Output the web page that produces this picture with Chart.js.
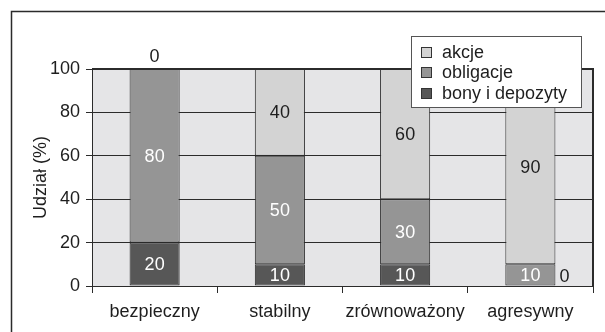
<!DOCTYPE html>
<html>
<head>
<meta charset="utf-8">
<script src="https://cdn.jsdelivr.net/npm/chart.js@4/dist/chart.umd.min.js"></script>
<style>
  html, body { margin: 0; padding: 0; background: #fff; }
  #wrap { width: 605px; height: 332px; }
</style>
</head>
<body>
<div id="wrap"><canvas id="c" width="605" height="332"></canvas></div>
<script>
// Portfolio profiles and their asset mix (%)
const categories = ['bezpieczny', 'stabilny', 'zrównoważony', 'agresywny'];
const akcje      = [0, 40, 60, 90];
const obligacje  = [80, 50, 30, 10];
const bony       = [20, 10, 10, 0];
const seriesNames = ['bony i depozyty', 'obligacje', 'akcje'];
const yTicks = [0, 20, 40, 60, 80, 100];

const FONT = '"Liberation Sans", Arial, Helvetica, sans-serif';
const INK = '#1e1e1e';
const LINE = '#2b2b2b';
const colors = {
  bony: '#575757',
  obligacje: '#959595',
  akcje: '#d3d3d3',
  plot: '#e5e5e7'
};

// plot background and outer frame
const framePlugin = {
  id: 'frame',
  beforeDraw(chart) {
    const { ctx, chartArea: a } = chart;
    ctx.save();
    ctx.fillStyle = colors.plot;
    ctx.fillRect(a.left, a.top, a.right - a.left, a.bottom - a.top);
    ctx.strokeStyle = LINE;
    ctx.lineWidth = 1.5;
    ctx.strokeRect(11.5, 11.5, 1000, 1000);
    ctx.restore();
  },
  afterDatasetsDraw(chart) {
    const { ctx, chartArea: a } = chart;
    ctx.save();
    ctx.strokeStyle = LINE;
    ctx.lineWidth = 2;
    ctx.beginPath();
    ctx.moveTo(a.left, a.top);
    ctx.lineTo(a.right, a.top);
    ctx.lineTo(a.right, a.bottom);
    ctx.stroke();
    ctx.restore();
  }
};

// value labels on each segment
const labelPlugin = {
  id: 'segLabels',
  afterDatasetsDraw(chart) {
    const { ctx } = chart;
    ctx.save();
    ctx.font = '18px ' + FONT;
    chart.data.datasets.forEach((ds, di) => {
      const meta = chart.getDatasetMeta(di);
      meta.data.forEach((bar, i) => {
        const v = ds.data[i];
        const p = bar.getProps(['x', 'y', 'base', 'width'], true);
        ctx.fillStyle = ds.labelColor;
        if (v === 0 && di === chart.data.datasets.length - 1) {
          // empty top segment: value above the stack
          ctx.textAlign = 'center';
          ctx.textBaseline = 'middle';
          ctx.fillText(String(v), p.x, p.y - 12);
        } else if (v === 0) {
          // empty bottom segment: value beside the bar
          ctx.fillStyle = INK;
          ctx.textAlign = 'left';
          ctx.textBaseline = 'middle';
          ctx.fillText(String(v), p.x + p.width / 2 + 4, p.base - 9);
        } else {
          ctx.textAlign = 'center';
          ctx.textBaseline = 'middle';
          ctx.fillText(String(v), p.x, (p.y + p.base) / 2 + 1);
        }
      });
    });
    ctx.restore();
  }
};

// boxed legend in the upper right corner
const legendPlugin = {
  id: 'boxLegend',
  afterDraw(chart) {
    const { ctx } = chart;
    const items = [
      ['akcje', colors.akcje],
      ['obligacje', colors.obligacje],
      ['bony i depozyty', colors.bony]
    ];
    ctx.save();
    ctx.fillStyle = '#fff';
    ctx.fillRect(411, 36, 170, 71);
    ctx.strokeStyle = '#555';
    ctx.lineWidth = 1;
    ctx.strokeRect(411.5, 36.5, 170, 71);
    ctx.font = '18px ' + FONT;
    ctx.textAlign = 'left';
    ctx.textBaseline = 'middle';
    items.forEach(([name, col], k) => {
      const cy = 52 + k * 20.5;
      ctx.fillStyle = col;
      ctx.fillRect(421, Math.round(cy - 5.5), 11, 11);
      ctx.strokeStyle = '#333';
      ctx.strokeRect(421.5, Math.round(cy - 5.5) + 0.5, 10, 10);
      ctx.fillStyle = INK;
      ctx.fillText(name, 442, cy + 1);
    });
    ctx.restore();
  }
};

new Chart(document.getElementById('c'), {
  type: 'bar',
  data: {
    labels: categories,
    datasets: [
      { label: seriesNames[0], data: bony, backgroundColor: colors.bony, labelColor: '#fff' },
      { label: seriesNames[1], data: obligacje, backgroundColor: colors.obligacje, labelColor: '#fff' },
      { label: seriesNames[2], data: akcje, backgroundColor: colors.akcje, labelColor: INK }
    ].map(d => Object.assign(d, {
      borderColor: LINE,
      borderWidth: 1,
      borderSkipped: false,
      barPercentage: 0.4,
      categoryPercentage: 1
    }))
  },
  options: {
    responsive: false,
    animation: false,
    events: [],
    layout: { padding: { top: 69, right: 12, left: 0, bottom: 0 } },
    plugins: { legend: { display: false }, tooltip: { enabled: false } },
    scales: {
      x: {
        stacked: true,
        offset: true,
        grid: { offset: true, drawOnChartArea: false, drawTicks: true, tickLength: 7, color: LINE, lineWidth: 1 },
        border: { color: LINE, width: 1 },
        ticks: { font: { family: FONT, size: 18 }, color: INK, padding: 8, maxRotation: 0 },
        afterFit(s) { s.height = 46; }
      },
      y: {
        stacked: true,
        min: 0,
        max: 100,
        afterBuildTicks(s) { s.ticks = yTicks.map(v => ({ value: v })); },
        grid: { color: LINE, lineWidth: 1, drawTicks: true, tickLength: 6 },
        border: { color: LINE, width: 1 },
        ticks: { font: { family: FONT, size: 18 }, color: INK, padding: 6 },
        title: {
          display: true,
          text: 'Udział (%)',
          font: { family: FONT, size: 18 },
          color: INK,
          padding: { top: 30, bottom: 0 }
        },
        afterFit(s) { s.width = 92; }
      }
    }
  },
  plugins: [framePlugin, labelPlugin, legendPlugin]
});
</script>
</body>
</html>
